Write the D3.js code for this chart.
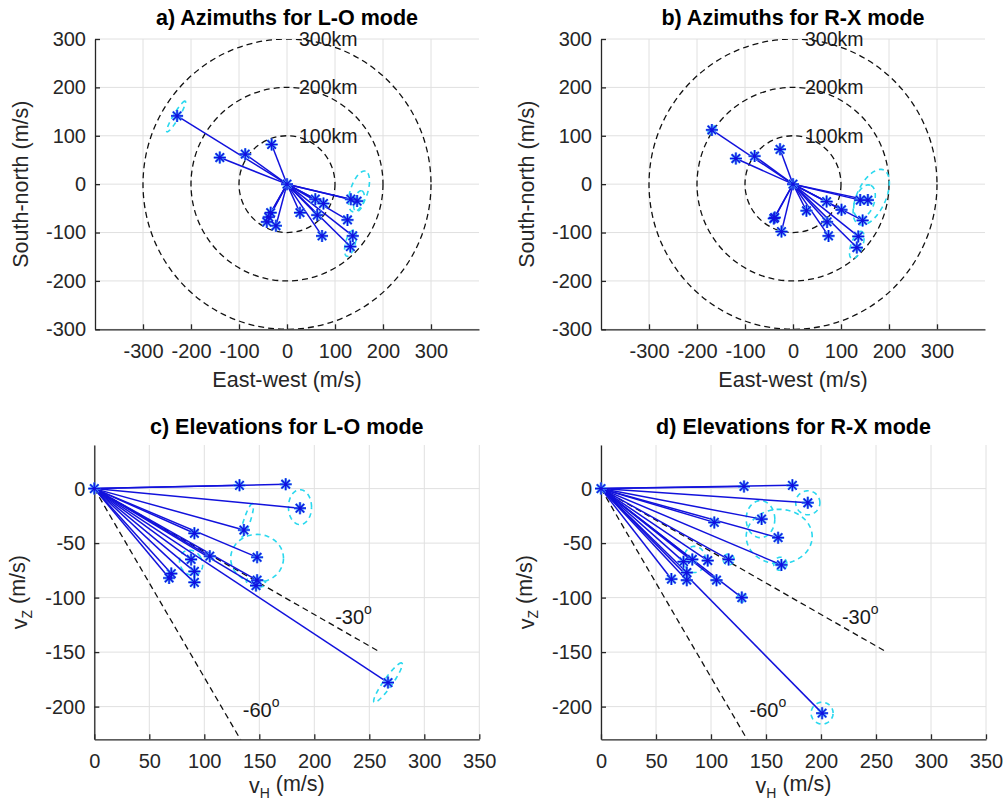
<!DOCTYPE html>
<html>
<head>
<meta charset="utf-8">
<script src="https://cdn.jsdelivr.net/npm/d3@7"></script>
<style>
  body { margin: 0; background: #fff; }
  svg { font-family: "Liberation Sans", Arial, sans-serif; }
  .grid line { stroke: #e0e0e0; stroke-width: 1; }
  .axis path, .axis line { stroke: #262626; stroke-width: 1.3; }
  .axis text { fill: #262626; font-size: 20px; font-family: "Liberation Sans", Arial, sans-serif; }
</style>
</head>
<body>
<div id="chart"></div>
<script>
'use strict';

// a) azimuths, L-O mode (east-west, south-north in m/s)
const azLoX = [-229, -140, -87, -32, 133, 146, 59, 76, 27, 63, 126, 73, 137, 132, -34, -42, -23, -38];
const azLoY = [141, 55, 62, 82, -31, -35, -31, -40, -59, -64, -74, -107, -107, -129, -59, -78, -86, -68];
// b) azimuths, R-X mode
const azRxX = [-169, -119, -80, -27, -40, -38, -24, 28, 70, 101, 71, 74, 140, 156, 145, 136, 133];
const azRxY = [112, 53, 58, 72, -71, -69, -98, -55, -36, -53, -78, -107, -33, -33, -75, -108, -131];
// c) elevations, L-O mode (horizontal, vertical in m/s)
const elLoH = [132, 174, 187, 136, 91, 148, 105, 88, 91, 91, 70, 68, 148, 147, 267];
const elLoZ = [3, 4, -18, -38, -41, -63, -62, -65, -76, -86, -78, -82, -84, -89, -178];
// d) elevations, R-X mode
const elRxH = [130, 174, 188, 146, 103, 161, 164, 116, 97, 83, 75, 78, 78, 64, 105, 128, 201];
const elRxZ = [2, 3, -13, -28, -31, -45, -70, -65, -66, -65, -67, -77, -84, -83, -84, -100, -206];

// error ellipses: [centre x, centre y, semi-axis 1, semi-axis 2, tilt in degrees]
const azLoEll = [[-231, 140, 37, 6, 59], [150, -15, 44, 18, 72], [150, -35, 22, 10, 75], [132, -122, 28, 10, 75]];
const azRxEll = [[163, -27, 62, 30, 65], [149, -36, 36, 20, 70], [133, -126, 30, 12, 70], [-169, 112, 10, 5, 45]];
const elLoEll = [[187, -17, 10.5, 16, 0], [139, -29, 16, 3, 72], [148, -64, 24, 22, 0], [88, -68, 10, 12, 30], [147, -86, 4, 9, 80], [267, -178, 22, 4, 55]];
const elRxEll = [[188, -13, 11, 11, 0], [145, -28, 13, 17, 0], [162, -44, 30, 25, 0], [163, -69, 6, 6, 0], [116, -65, 5, 5, 0], [85, -65, 10, 12, 0], [201, -206, 10, 10, 0], [128, -100, 4, 4, 0]];

// reference rings (range) and elevation guides
const ringRadii = [100, 200, 300];
const ringLabels = ['100km', '200km', '300km'];
const guideAngles = [-30, -60];
const guideLength = 300;
const guideLabelPos = [[219, -118], [135, -203]];

// ticks
const azTicks = [-300, -200, -100, 0, 100, 200, 300];
const elXTicks = [0, 50, 100, 150, 200, 250, 300, 350];
const elYTicks = [-200, -150, -100, -50, 0];

const width = 1005, height = 805;
const svg = d3.select('#chart').append('svg')
    .attr('width', width)
    .attr('height', height);

const defs = svg.append('defs');

function asterisk(px, py, s) {
  const d = s * 0.707;
  return `M${px - s},${py}L${px + s},${py}M${px},${py - s}L${px},${py + s}` +
         `M${px - d},${py - d}L${px + d},${py + d}M${px - d},${py + d}L${px + d},${py - d}`;
}

function ellipsePoints(e) {
  const [cx, cy, a, b, rot] = e;
  const th = rot * Math.PI / 180;
  return d3.range(0, 73).map(i => {
    const t = i / 72 * 2 * Math.PI;
    return [cx + a * Math.cos(t) * Math.cos(th) - b * Math.sin(t) * Math.sin(th),
            cy + a * Math.cos(t) * Math.sin(th) + b * Math.sin(t) * Math.cos(th)];
  });
}

function drawPanel(cfg, idx) {
  const x = d3.scaleLinear().domain(cfg.xDomain).range(cfg.xRange);
  const y = d3.scaleLinear().domain(cfg.yDomain).range(cfg.yRange);
  const g = svg.append('g');

  defs.append('clipPath').attr('id', 'clip' + idx)
    .append('rect')
      .attr('x', cfg.xRange[0]).attr('y', cfg.yRange[1])
      .attr('width', cfg.xRange[1] - cfg.xRange[0])
      .attr('height', cfg.yRange[0] - cfg.yRange[1]);

  // grid
  const grid = g.append('g').attr('class', 'grid');
  grid.selectAll('.gx').data(cfg.xTicks).enter().append('line')
      .attr('x1', d => x(d)).attr('x2', d => x(d))
      .attr('y1', cfg.yRange[0]).attr('y2', cfg.yRange[1]);
  grid.selectAll('.gy').data(cfg.yTicks).enter().append('line')
      .attr('y1', d => y(d)).attr('y2', d => y(d))
      .attr('x1', cfg.xRange[0]).attr('x2', cfg.xRange[1]);

  // axes
  g.append('g')
      .attr('class', 'axis')
      .attr('transform', `translate(0, ${cfg.yRange[0]})`)
      .call(d3.axisBottom(x).tickValues(cfg.xTicks).tickSizeInner(-5).tickSizeOuter(0).tickPadding(14.5));
  g.append('g')
      .attr('class', 'axis')
      .attr('transform', `translate(${cfg.xRange[0]}, 0)`)
      .call(d3.axisLeft(y).tickValues(cfg.yTicks).tickSizeInner(-5).tickSizeOuter(0).tickPadding(9)
        .tickFormat(d3.format('d')));
  g.selectAll('.axis text').text(function() { return this.textContent.replace('\u2212', '-'); });

  const plot = g.append('g').attr('clip-path', `url(#clip${idx})`);

  // reference rings / guide lines
  if (cfg.rings) {
    plot.selectAll('.ring').data(ringRadii).enter().append('ellipse')
        .attr('cx', x(0)).attr('cy', y(0))
        .attr('rx', d => x(d) - x(0)).attr('ry', d => y(0) - y(d))
        .attr('fill', 'none').attr('stroke', '#111')
        .attr('stroke-width', 1.3).attr('stroke-dasharray', '6,4');
  }
  if (cfg.guides) {
    plot.selectAll('.guide').data(guideAngles).enter().append('line')
        .attr('x1', x(0)).attr('y1', y(0))
        .attr('x2', d => x(guideLength * Math.cos(d * Math.PI / 180)))
        .attr('y2', d => y(guideLength * Math.sin(d * Math.PI / 180)))
        .attr('stroke', '#111').attr('stroke-width', 1.3).attr('stroke-dasharray', '6,4');
  }

  // error ellipses
  const ell = d3.line().x(d => x(d[0])).y(d => y(d[1]));
  plot.selectAll('.ell').data(cfg.ellipses).enter().append('path')
      .attr('d', d => ell(ellipsePoints(d)))
      .attr('fill', 'none').attr('stroke', '#2ad8ee')
      .attr('stroke-width', 1.6).attr('stroke-dasharray', '5,4');

  // vectors
  const pts = cfg.xs.map((v, i) => [v, cfg.ys[i]]);
  plot.selectAll('.vec').data(pts).enter().append('line')
      .attr('x1', x(0)).attr('y1', y(0))
      .attr('x2', d => x(d[0])).attr('y2', d => y(d[1]))
      .attr('stroke', '#1212dc').attr('stroke-width', 1.5);

  // markers
  const mk = pts.concat([[0, 0]]);
  g.selectAll('.mk1').data(mk).enter().append('path')
      .attr('d', d => asterisk(x(d[0]), y(d[1]), 6))
      .attr('stroke', '#4a9cf8').attr('stroke-width', 2.5).attr('fill', 'none');
  g.selectAll('.mk2').data(mk).enter().append('path')
      .attr('d', d => asterisk(x(d[0]), y(d[1]), 6))
      .attr('stroke', '#1010e0').attr('stroke-width', 1.2).attr('fill', 'none');

  // annotations
  if (cfg.rings) {
    g.selectAll('.rlab').data(ringRadii).enter().append('text')
        .attr('x', x(25)).attr('y', d => y(d)).attr('dy', '0.35em')
        .attr('font-size', 19.5).attr('fill', '#1a1a1a')
        .text((d, i) => ringLabels[i]);
  }
  if (cfg.guides) {
    guideAngles.forEach((a, i) => {
      const t = g.append('text')
          .attr('x', x(guideLabelPos[i][0])).attr('y', y(guideLabelPos[i][1])).attr('dy', '0.35em')
          .attr('font-size', 20).attr('fill', '#1a1a1a');
      t.append('tspan').text(String(a));
      t.append('tspan').attr('font-size', 14).attr('dy', '-0.7em').text('o');
    });
  }

  // title
  const cx = (cfg.xRange[0] + cfg.xRange[1]) / 2;
  g.append('text')
      .attr('x', cx).attr('y', cfg.titleY)
      .attr('text-anchor', 'middle').attr('font-size', 21.5).attr('font-weight', 'bold')
      .attr('fill', '#000')
      .text(cfg.title);

  // x label
  const xl = g.append('text')
      .attr('x', cx).attr('y', cfg.yRange[0] + cfg.xLabelOff)
      .attr('text-anchor', 'middle').attr('font-size', 21.5).attr('fill', '#262626');
  // y label
  const cy = (cfg.yRange[0] + cfg.yRange[1]) / 2;
  const yl = g.append('text')
      .attr('transform', `translate(${cfg.xRange[0] - 67}, ${cy}) rotate(-90)`)
      .attr('text-anchor', 'middle').attr('font-size', 21.5).attr('fill', '#262626');
  if (cfg.rings) {
    xl.text('East-west (m/s)');
    yl.text('South-north (m/s)');
  } else {
    xl.append('tspan').text('v');
    xl.append('tspan').attr('font-size', 14).attr('dy', '0.3em').text('H');
    xl.append('tspan').attr('dy', '-0.3em').text(' (m/s)');
    yl.append('tspan').text('v');
    yl.append('tspan').attr('font-size', 14).attr('dy', '0.3em').text('Z');
    yl.append('tspan').attr('dy', '-0.3em').text(' (m/s)');
  }
}

const panels = [
  { title: 'a) Azimuths for L-O mode', titleY: 25, rings: true, xLabelOff: 58,
    xDomain: [-400, 400], xRange: [95, 479], yDomain: [-300, 300], yRange: [329.3, 39],
    xTicks: azTicks, yTicks: azTicks, xs: azLoX, ys: azLoY, ellipses: azLoEll },
  { title: 'b) Azimuths for R-X mode', titleY: 25, rings: true, xLabelOff: 58,
    xDomain: [-400, 400], xRange: [601, 985], yDomain: [-300, 300], yRange: [329.3, 39],
    xTicks: azTicks, yTicks: azTicks, xs: azRxX, ys: azRxY, ellipses: azRxEll },
  { title: 'c) Elevations for L-O mode', titleY: 434, guides: true, xLabelOff: 54,
    xDomain: [0, 350], xRange: [94.3, 479.3], yDomain: [-230, 40], yRange: [739.3, 445],
    xTicks: elXTicks, yTicks: elYTicks, xs: elLoH, ys: elLoZ, ellipses: elLoEll },
  { title: 'd) Elevations for R-X mode', titleY: 434, guides: true, xLabelOff: 54,
    xDomain: [0, 350], xRange: [601, 986], yDomain: [-230, 40], yRange: [739.3, 445],
    xTicks: elXTicks, yTicks: elYTicks, xs: elRxH, ys: elRxZ, ellipses: elRxEll }
];

panels.forEach((p, i) => drawPanel(p, i));
</script>
</body>
</html>
